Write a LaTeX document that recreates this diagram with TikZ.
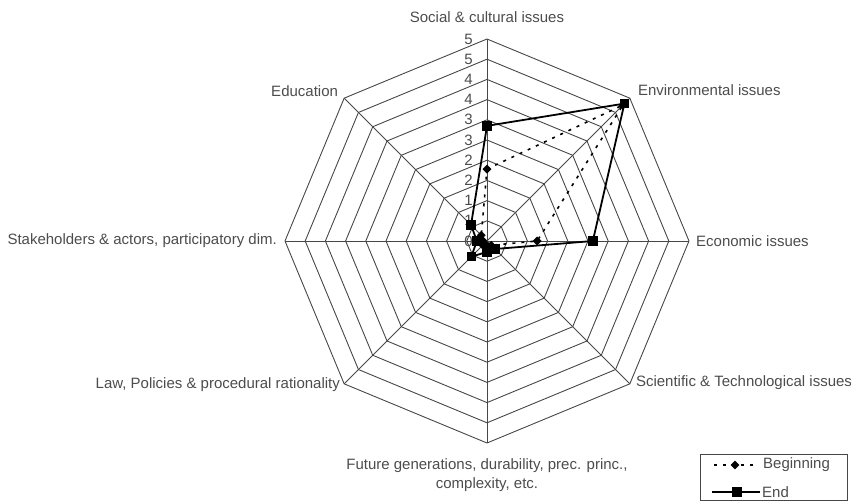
\documentclass[tikz,border=0pt]{standalone}
\usepackage{fontspec}
\setmainfont{Liberation Sans}
\usetikzlibrary{shapes, arrows}
\tikzset{
  every axislabel/.style={
    font=\fontsize{15}{19}\selectfont,
    text=black!70,
    inner sep=1pt
  },
  ticklabel/.style={
    font=\fontsize{15}{17}\selectfont,
    text=black!70,
    anchor=east,
    inner sep=1pt
  },
}
\tikzstyle{gridline} = [draw=black!72, line width=0.9pt]
\tikzstyle{endline} = [draw=black, line width=1.8pt]
\tikzstyle{beginline} = [draw=black, line width=1.6pt, dash pattern=on 3pt off 6pt]
\tikzstyle{endmark} = [rectangle, fill=black, minimum size=9.5pt, inner sep=0pt]
\tikzstyle{beginmark} = [diamond, fill=black, minimum size=9pt, inner sep=0pt]

\begin{document}
\begin{tikzpicture}[x=1pt, y=1pt]
        \useasboundingbox (-487,-260) rectangle (364,241);
        \coordinate (O) at (0,0);

        % grid
        \foreach \a [count=\i] in {90,45,0,-45,-90,-135,180,135}
            \coordinate (v\i) at (\a:202);
        \foreach \k in {1,...,10} {
            \pgfmathsetmacro\rr{\k*20.2}
            \draw [gridline] (0:\rr) -- (45:\rr) -- (90:\rr) -- (135:\rr) -- (180:\rr) -- (225:\rr) -- (270:\rr) -- (315:\rr) -- cycle;
        }
        \foreach \i in {1,...,8}
            \draw [gridline] (O) -- (v\i);
        \foreach \k/\t in {0/0,1/1,2/1,3/2,4/2,5/3,6/3,7/4,8/4,9/5,10/5}
            \node [ticklabel] (t\k) at (-13,\k*20.2) {\t};

        % axis labels
        \node [every axislabel, anchor=south, yshift=15] (social) at (v1) {Social \& cultural issues};
        \node [every axislabel, anchor=west, xshift=7, yshift=8] (env) at (v2) {Environmental issues};
        \node [every axislabel, anchor=west, xshift=6] (econ) at (v3) {Economic issues};
        \node [every axislabel, anchor=west, xshift=5, yshift=1] (sci) at (v4) {Scientific \& Technological issues};
        \node [every axislabel, anchor=north, yshift=-14, align=center] (future) at (v5) {Future generations, durability, prec. princ.,\\complexity, etc.};
        \node [every axislabel, anchor=east, xshift=-3, yshift=-1] (law) at (v6) {Law, Policies \& procedural rationality};
        \node [every axislabel, anchor=east, xshift=-7] (stake) at (v7) {Stakeholders \& actors, participatory dim.};
        \node [every axislabel, anchor=east, xshift=-5, yshift=7] (edu) at (v8) {Education};

        % beginning
        \foreach \a/\v [count=\i] in {90/1.78,45/4.76,0/1.24,-45/0.15,-90/0.12,-135/0.15,180/0.1,135/0.2}
            \node [beginmark] (b\i) at (\a:\v*40.4) {};
        \draw [beginline] (b1.center) -- (b2.center) -- (b3.center) -- (b4.center) -- (b5.center) -- (b6.center) -- (b7.center) -- (b8.center) -- cycle;

        % end
        \foreach \a/\v [count=\i] in {90/2.85,45/4.81,0/2.62,-45/0.28,-90/0.27,-135/0.55,180/0.25,135/0.56}
            \node [endmark] (e\i) at (\a:\v*40.4) {};
        \draw [endline] (e1.center) -- (e2.center) -- (e3.center) -- (e4.center) -- (e5.center) -- (e6.center) -- (e7.center) -- (e8.center) -- cycle;

        % legend
        \node [draw=black!72, line width=0.9pt, minimum width=147, minimum height=46, anchor=north west, inner sep=0pt] (legend) at (213,-213) {};
        \coordinate (lb1) at (227,-224);
        \coordinate (lb2) at (267,-224);
        \coordinate (le1) at (225,-251);
        \coordinate (le2) at (273,-251);
        \node [beginmark] (lbm) at (248,-224) {};
        \node [endmark] (lem) at (250,-251) {};
        \draw [beginline] (lb1) -- (lbm.center) -- (lb2);
        \draw [endline] (le1) -- (lem.center) -- (le2);
        \node [every axislabel, anchor=west] (lbt) at (275,-224) {Beginning};
        \node [every axislabel, anchor=west] (let) at (274,-251) {End};
    \end{tikzpicture}
\end{document}
